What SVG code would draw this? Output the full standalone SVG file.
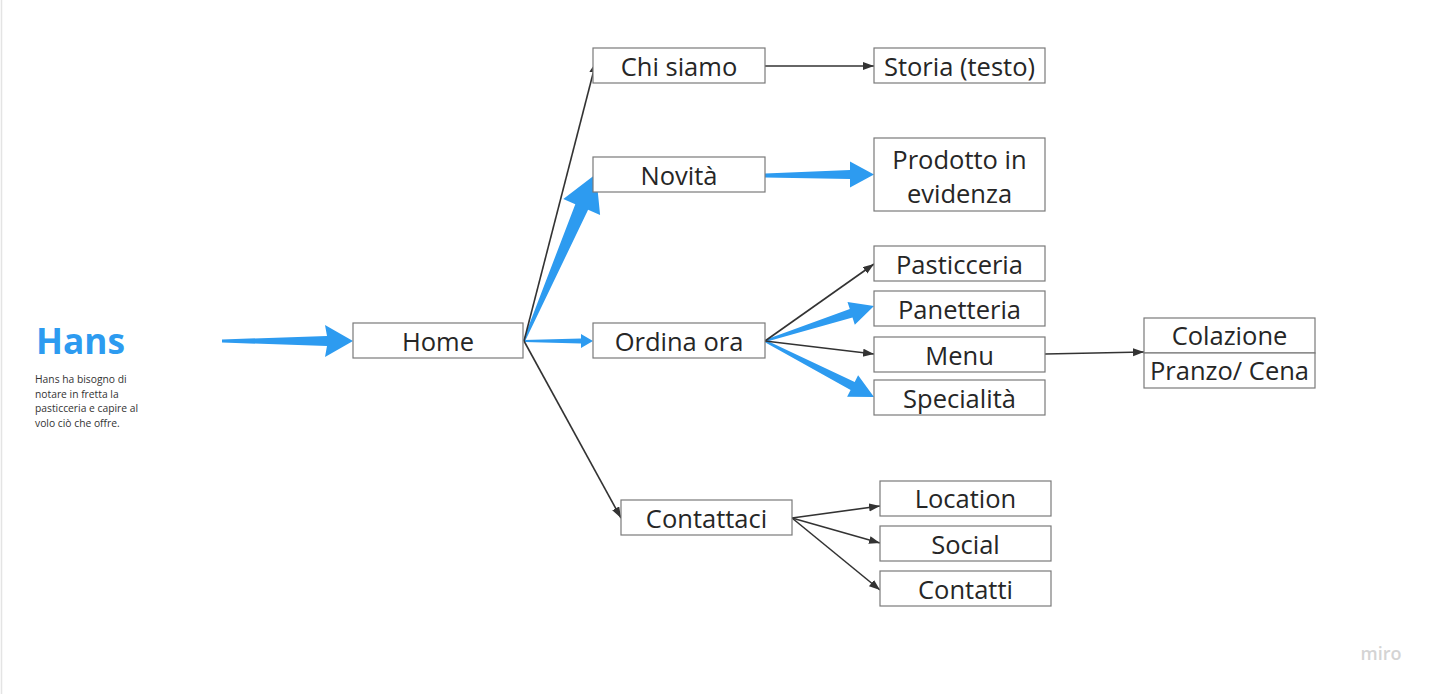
<svg xmlns="http://www.w3.org/2000/svg" width="1438" height="694" viewBox="0 0 1438 694">
<defs>
<marker id="ah" markerUnits="userSpaceOnUse" markerWidth="12" markerHeight="10" refX="11" refY="4" orient="auto">
<path d="M0,0 L11,4 L0,8 Z" fill="#333"/>
</marker>
<style>
.box{fill:#fff;stroke:#7a7a7a;stroke-width:1.2}
.lbl{font-family:"Open Sans","Liberation Sans",sans-serif;font-size:25.5px;fill:#262626;text-anchor:middle}
.ln{stroke:#333;stroke-width:1.6;fill:none;marker-end:url(#ah)}
.blue{fill:#2d9bf0}
</style>
</defs>
<rect x="0" y="0" width="1438" height="694" fill="#fff"/>
<line x1="1.5" y1="0" x2="1.5" y2="694" stroke="#e4e4e4" stroke-width="1.5"/>

<g id="persona">
<text x="36" y="354" font-family="'Open Sans','Liberation Sans',sans-serif" font-weight="bold" font-size="36" fill="#2d9bf0" textLength="89" lengthAdjust="spacingAndGlyphs">Hans</text>
<g font-family="'Open Sans','Liberation Sans',sans-serif" font-size="10.3" fill="#333">
<text x="35" y="383">Hans ha bisogno di</text>
<text x="35" y="397.5">notare in fretta la</text>
<text x="35" y="412">pasticceria e capire al</text>
<text x="35" y="426.5">volo ciò che offre.</text>
</g>
</g>

<g id="connectors">
<polygon class="blue" points="222,342.5 327,346 325,357 353,341 325,325 327,336 222,339.5"/>
<polygon class="blue" points="524.9,341.4 588.1,209.8 600.1,214.9 596,174 563.3,199.1 575.3,204.2 523.1,340.6"/>
<polygon class="blue" points="524,342 581,343.5 581,348 593,341 581,334 581,338.5 524,340"/>
<polygon class="blue" points="765,177.5 850,179 850,187.5 874,174.5 850,161.5 850,170 765,173.5"/>
<polygon class="blue" points="765.3,342 852.5,317.6 854.8,324.8 874,306 847.5,301.9 849.8,309.1 764.7,340"/>
<polygon class="blue" points="764.5,341.9 850.6,390 847.1,396.7 874,397 858.1,375.3 854.7,382 765.5,340.1"/>
<line class="ln" x1="524" y1="341" x2="596" y2="62"/>
<line class="ln" x1="524" y1="341" x2="621" y2="518"/>
<line class="ln" x1="765" y1="66" x2="874" y2="66"/>
<line class="ln" x1="765" y1="341" x2="874" y2="264"/>
<line class="ln" x1="765" y1="341" x2="874" y2="354"/>
<line class="ln" x1="1045" y1="354" x2="1144" y2="352"/>
<line class="ln" x1="792" y1="518" x2="880" y2="506"/>
<line class="ln" x1="792" y1="518" x2="880" y2="543"/>
<line class="ln" x1="792" y1="518" x2="880" y2="590"/>
</g>

<g id="home"><rect class="box" x="353" y="323" width="170" height="35"/><text class="lbl" x="438" y="351">Home</text></g>
<g id="chi-siamo"><rect class="box" x="593" y="48" width="172" height="35"/><text class="lbl" x="679" y="76">Chi siamo</text></g>
<g id="storia"><rect class="box" x="874" y="48" width="171" height="35"/><text class="lbl" x="959.5" y="76">Storia (testo)</text></g>
<g id="novita"><rect class="box" x="593" y="157" width="172" height="35"/><text class="lbl" x="679" y="185">Novità</text></g>
<g id="prodotto"><rect class="box" x="874" y="138" width="171" height="73"/><text class="lbl" x="959.5" y="169">Prodotto in</text><text class="lbl" x="959.5" y="203">evidenza</text></g>
<g id="ordina"><rect class="box" x="593" y="323" width="172" height="35"/><text class="lbl" x="679" y="351">Ordina ora</text></g>
<g id="pasticceria"><rect class="box" x="874" y="246" width="171" height="35"/><text class="lbl" x="959.5" y="274">Pasticceria</text></g>
<g id="panetteria"><rect class="box" x="874" y="291" width="171" height="35"/><text class="lbl" x="959.5" y="319">Panetteria</text></g>
<g id="menu"><rect class="box" x="874" y="337" width="171" height="35"/><text class="lbl" x="959.5" y="365">Menu</text></g>
<g id="specialita"><rect class="box" x="874" y="380" width="171" height="35"/><text class="lbl" x="959.5" y="408">Specialità</text></g>
<g id="colazione"><rect class="box" x="1144" y="318" width="171" height="35"/><text class="lbl" x="1229.5" y="345">Colazione</text></g>
<g id="pranzo-cena"><rect class="box" x="1144" y="353" width="171" height="35"/><text class="lbl" x="1229.5" y="380">Pranzo/ Cena</text></g>
<g id="contattaci"><rect class="box" x="621" y="500" width="171" height="35"/><text class="lbl" x="706.5" y="528">Contattaci</text></g>
<g id="location"><rect class="box" x="880" y="481" width="171" height="35"/><text class="lbl" x="965.5" y="508">Location</text></g>
<g id="social"><rect class="box" x="880" y="526" width="171" height="35"/><text class="lbl" x="965.5" y="554">Social</text></g>
<g id="contatti"><rect class="box" x="880" y="571" width="171" height="35"/><text class="lbl" x="965.5" y="599">Contatti</text></g>

<text x="1381" y="660" font-family="'Open Sans','Liberation Sans',sans-serif" font-size="18" font-weight="600" fill="#d4d4d4" text-anchor="middle">miro</text>
</svg>
